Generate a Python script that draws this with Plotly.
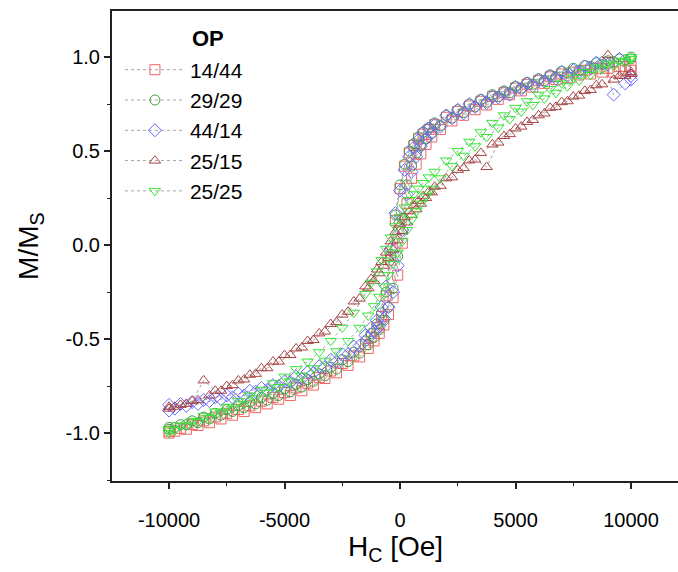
import plotly.graph_objects as go

# Applied field (Oe): points of the descending sweep (+10000 -> -10000)
H_DOWN = [10000, 9500, 9000, 8500, 8000, 7500, 7000, 6500, 6000, 5500, 5000, 4500, 4000,
          3500, 3000, 2500, 2000, 1500, 1250, 1000, 800, 600, 400, 200, 0, -200, -400,
          -600, -800, -1000, -1250, -1500, -2000, -2500, -3000, -3500, -4000, -4500,
          -5000, -5500, -6000, -6500, -7000, -7500, -8000, -8500, -9000, -9500, -10000]
# Applied field (Oe): points of the ascending sweep, listed from + to - as well
H_UP = [10000, 9750, 9250, 8750, 8250, 7750, 7250, 6750, 6250, 5750, 5250, 4750, 4250,
        3750, 3250, 2750, 2250, 1750, 1375, 1125, 900, 700, 500, 300, 100, -100, -300,
        -500, -700, -900, -1125, -1375, -1750, -2250, -2750, -3250, -3750, -4250,
        -4750, -5250, -5750, -6250, -6750, -7250, -7750, -8250, -8750, -9250, -9750, -10000]

# 14/44
R_D = [0.95, 0.95, 0.94, 0.94, 0.93, 0.92, 0.91, 0.895, 0.875, 0.855, 0.835, 0.81, 0.79,
       0.765, 0.74, 0.71, 0.68, 0.64, 0.615, 0.59, 0.565, 0.53, 0.49, 0.42, 0.30, 0.13, -0.08,
       -0.27, -0.38, -0.44, -0.49, -0.53, -0.59, -0.63, -0.67, -0.705, -0.735, -0.76,
       -0.785, -0.81, -0.83, -0.855, -0.875, -0.895, -0.915, -0.935, -0.955, -0.975, -0.99]
R_U = [0.93, 0.93, 0.92, 0.92, 0.91, 0.905, 0.89, 0.88, 0.86, 0.84, 0.82, 0.80, 0.775,
       0.745, 0.72, 0.69, 0.66, 0.615, 0.575, 0.535, 0.485, 0.43, 0.355, 0.22, 0.01, -0.16, -0.28,
       -0.37, -0.425, -0.47, -0.51, -0.55, -0.595, -0.64, -0.68, -0.71, -0.745, -0.775,
       -0.80, -0.82, -0.845, -0.865, -0.885, -0.905, -0.925, -0.945, -0.96, -0.98, -0.99, -1.0]

# 29/29
G_D = [1.0, 0.99, 0.98, 0.97, 0.955, 0.94, 0.925, 0.905, 0.885, 0.865, 0.845, 0.82, 0.80,
       0.775, 0.75, 0.72, 0.69, 0.65, 0.625, 0.60, 0.575, 0.54, 0.50, 0.43, 0.32, 0.16, -0.05,
       -0.25, -0.36, -0.42, -0.47, -0.51, -0.57, -0.61, -0.65, -0.685, -0.715, -0.74,
       -0.765, -0.79, -0.81, -0.835, -0.855, -0.875, -0.895, -0.915, -0.935, -0.955, -0.97]
G_U = [0.99, 0.985, 0.975, 0.96, 0.95, 0.93, 0.915, 0.895, 0.875, 0.855, 0.835, 0.81, 0.79,
       0.76, 0.735, 0.705, 0.675, 0.635, 0.595, 0.565, 0.53, 0.49, 0.42, 0.32, 0.14, -0.06, -0.23,
       -0.33, -0.40, -0.45, -0.49, -0.53, -0.575, -0.62, -0.66, -0.695, -0.725, -0.755,
       -0.78, -0.80, -0.825, -0.845, -0.865, -0.885, -0.905, -0.925, -0.945, -0.955, -0.97, -0.98]

# 44/14
B_D = [0.88, 0.99, 0.96, 0.97, 0.95, 0.93, 0.92, 0.90, 0.88, 0.86, 0.84, 0.81, 0.79,
       0.77, 0.75, 0.72, 0.69, 0.64, 0.62, 0.60, 0.56, 0.52, 0.47, 0.40, 0.29, 0.17, -0.02,
       -0.22, -0.33, -0.40, -0.44, -0.48, -0.54, -0.58, -0.61, -0.645, -0.675, -0.70,
       -0.725, -0.745, -0.76, -0.775, -0.79, -0.80, -0.81, -0.825, -0.835, -0.845, -0.85]
B_U = [0.90, 0.86, 0.80, 0.97, 0.94, 0.92, 0.90, 0.885, 0.87, 0.845, 0.83, 0.80, 0.785,
       0.755, 0.735, 0.70, 0.675, 0.63, 0.595, 0.565, 0.525, 0.47, 0.39, 0.27, 0.08, -0.11, -0.25,
       -0.33, -0.39, -0.43, -0.46, -0.495, -0.535, -0.58, -0.62, -0.65, -0.68, -0.71,
       -0.73, -0.75, -0.77, -0.78, -0.80, -0.81, -0.82, -0.83, -0.845, -0.855, -0.87, -0.88]

# 25/15
BR_D = [0.92, 0.90, 1.01, 0.85, 0.82, 0.79, 0.76, 0.73, 0.69, 0.655, 0.62, 0.58, 0.535,
        0.49, 0.45, 0.40, 0.355, 0.31, 0.285, 0.26, 0.235, 0.21, 0.18, 0.15, 0.11, 0.07, 0.02,
        -0.04, -0.09, -0.13, -0.18, -0.22, -0.30, -0.37, -0.42, -0.47, -0.51, -0.55,
        -0.585, -0.62, -0.655, -0.69, -0.72, -0.75, -0.775, -0.72, -0.83, -0.85, -0.86]
BR_U = [0.91, 0.90, 0.88, 0.855, 0.825, 0.795, 0.765, 0.735, 0.70, 0.665, 0.63, 0.59, 0.545,
        0.415, 0.455, 0.41, 0.36, 0.315, 0.28, 0.25, 0.22, 0.19, 0.16, 0.12, 0.075, 0.025, -0.025,
        -0.07, -0.11, -0.15, -0.19, -0.23, -0.285, -0.355, -0.41, -0.46, -0.505, -0.545,
        -0.585, -0.62, -0.655, -0.685, -0.715, -0.745, -0.775, -0.80, -0.825, -0.845, -0.86, -0.87]

# 25/25
GT_D = [1.0, 0.98, 0.965, 0.945, 0.92, 0.89, 0.86, 0.83, 0.80, 0.765, 0.73, 0.69, 0.65,
        0.60, 0.55, 0.50, 0.45, 0.39, 0.36, 0.33, 0.30, 0.27, 0.24, 0.20, 0.15, 0.10, 0.04,
        -0.02, -0.08, -0.14, -0.20, -0.26, -0.36, -0.44, -0.51, -0.57, -0.62, -0.66,
        -0.70, -0.735, -0.77, -0.80, -0.83, -0.86, -0.885, -0.91, -0.935, -0.96, -0.98]
GT_U = [0.99, 0.975, 0.955, 0.935, 0.905, 0.875, 0.845, 0.81, 0.78, 0.745, 0.71, 0.67, 0.625,
        0.575, 0.525, 0.475, 0.42, 0.355, 0.30, 0.26, 0.22, 0.18, 0.135, 0.08, 0.02, -0.04, -0.10,
        -0.16, -0.22, -0.275, -0.325, -0.375, -0.44, -0.51, -0.565, -0.615, -0.655, -0.695,
        -0.725, -0.755, -0.785, -0.815, -0.845, -0.87, -0.89, -0.92, -0.94, -0.96, -0.985, -1.0]

NAMES = ["14/44", "29/29", "44/14", "25/15", "25/25"]
DOWN = [R_D, G_D, B_D, BR_D, GT_D]
UP = [R_U, G_U, B_U, BR_U, GT_U]
SYMBOLS = ["square-open", "circle-open", "diamond-open", "triangle-up-open", "triangle-down-open"]
COLORS = ["#f06464", "#3f9f3f", "#6a6aff", "#a84646", "#33e633"]

X_TICKS = [-10000, -5000, 0, 5000, 10000]
X_LABELS = ["-10000", "-5000", "0", "5000", "10000"]
Y_TICKS = [-1.0, -0.5, 0.0, 0.5, 1.0]
Y_LABELS = ["-1.0", "-0.5", "0.0", "0.5", "1.0"]

fig = go.Figure()
for name, d, u, sym, col in zip(NAMES, DOWN, UP, SYMBOLS, COLORS):
    fig.add_trace(go.Scatter(
        x=H_DOWN + H_UP[::-1], y=d + u[::-1], mode="lines+markers", name=name,
        line=dict(color="#8c8c8c", width=0.8, dash="dot"),
        marker=dict(symbol=sym, size=10, color=col, line=dict(color=col, width=1)),
    ))

FONT = "Liberation Sans, Arial, sans-serif"
fig.update_layout(
    width=678, height=572,
    margin=dict(l=112, r=0, t=11, b=91),
    plot_bgcolor="white", paper_bgcolor="white",
    font=dict(family=FONT, color="black", size=20),
    showlegend=True,
    legend=dict(x=0.014, y=0.918, xanchor="left", yanchor="top",
                bgcolor="rgba(0,0,0,0)", font=dict(size=21, family=FONT),
                itemwidth=60),
    xaxis=dict(range=[-12470, 12035], tickvals=X_TICKS, ticktext=X_LABELS,
               automargin=False, ticklabelstandoff=14,
               ticks="outside", ticklen=6, tickwidth=1.5, tickcolor="#222",
               showline=True, linecolor="#222", linewidth=2, mirror=True,
               showgrid=False, zeroline=False,
               tickfont=dict(size=20, family=FONT),
               minor=dict(ticks="outside", ticklen=3, tickwidth=1.2, tickcolor="#222",
                          dtick=2500, tick0=-12500, showgrid=False)),
    yaxis=dict(range=[-1.255, 1.245], tickvals=Y_TICKS, ticktext=Y_LABELS,
               automargin=False,
               ticks="outside", ticklen=6, tickwidth=1.5, tickcolor="#222",
               showline=True, linecolor="#222", linewidth=2, mirror=False,
               showgrid=False, zeroline=False,
               tickfont=dict(size=20, family=FONT),
               minor=dict(ticks="outside", ticklen=3, tickwidth=1.2, tickcolor="#222",
                          dtick=0.25, tick0=-1.25, showgrid=False)),
    annotations=[
        dict(text="H<sub>C</sub> [Oe]", x=0.5, y=-0.1426, xref="paper", yref="paper",
             xanchor="center", yanchor="middle", showarrow=False,
             font=dict(size=28, family=FONT)),
        dict(text="M/M<sub>S</sub>", x=-0.145, y=0.5, xref="paper", yref="paper",
             xanchor="center", yanchor="middle", showarrow=False, textangle=-90,
             font=dict(size=28, family=FONT)),
        dict(text="<b>OP</b>", x=0.138, y=0.941, xref="paper", yref="paper",
             xanchor="left", yanchor="middle", showarrow=False,
             font=dict(size=22, family=FONT)),
    ],
)

fig.write_html("out.html", config={"displayModeBar": False},
               post_script="document.body.style.margin='0';")
